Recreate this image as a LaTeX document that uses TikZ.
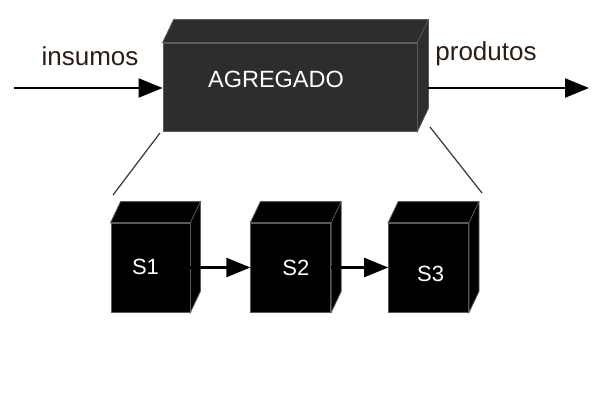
\documentclass[tikz,border=0pt]{standalone}
\usepackage{fontspec}
\setmainfont{Liberation Sans}
\usetikzlibrary{positioning,calc,arrows.meta}
\definecolor{aggfill}{HTML}{2D2D2D}
\definecolor{edgegray}{HTML}{5A5A5A}
\definecolor{txtbrown}{HTML}{2B1D14}
\begin{document}
\begin{tikzpicture}[x=1pt,y=-1pt]
			\tikzset{box/.style={draw=edgegray,line width=0.8pt,inner sep=0pt},
			flow/.style={line width=2.2pt,-{Triangle[length=24pt,width=19pt]}},
			lbl/.style={text=txtbrown,font=\fontsize{26}{30}\selectfont},
			inner/.style={text=white,font=\fontsize{22}{26}\selectfont}}
			\useasboundingbox (0,0) rectangle (600,405);
			\node[box,fill=aggfill,minimum width=254pt,minimum height=88pt] (agg) at (290,87) {};
			\node[inner,font=\fontsize{23.5}{28}\selectfont] (aggtxt) at (276,79) {AGREGADO};
			\fill[aggfill,draw=edgegray,line width=0.8pt] (agg.north west) -- ++(11,-23) -- ($(agg.north east)+(11,-23)$) -- ($(agg.south east)+(11,-23)$) -- (agg.south east) -- (agg.north east) -- cycle;
			\draw[edgegray,line width=0.8pt] (agg.north east) -- ++(11,-23);
			\node[box,fill=black,minimum width=79pt,minimum height=89pt] (s1) at (150.5,267.5) {};
			\node[box,fill=black,minimum width=80pt,minimum height=89pt,right=60pt of s1] (s2) {};
			\node[box,fill=black,minimum width=80pt,minimum height=89pt,right=57pt of s2] (s3) {};
			\foreach \n in {s1,s2,s3}{
				\fill[black,draw=edgegray,line width=0.8pt] (\n.north west) -- ++(10,-21) -- ($(\n.north east)+(10,-21)$) -- ($(\n.south east)+(10,-21)$) -- (\n.south east) -- (\n.north east) -- cycle;
				\draw[edgegray,line width=0.8pt] (\n.north east) -- ++(10,-21);
			}
			\node[inner] at ($(s1)+(-5,-1)$) {S1};
			\node[inner] at ($(s2)+(5,0)$) {S2};
			\node[inner] at ($(s3)+(2,6)$) {S3};
			\coordinate (in) at (14,88);
			\coordinate (out) at (589,88);
			\draw[flow] (in) -- (agg.west |- in);
			\draw[flow] ($(agg.east |- out)+(11,0)$) -- (out);
			\draw[flow] (s1.east) -- (s2.west);
			\draw[flow] (s2.east) -- (s3.west);
			\node[lbl] (ins) at (90,56) {insumos};
			\node[lbl] (prod) at (486,54) {produtos};
			\coordinate (a1) at (160,133);
			\coordinate (b1) at (113,195);
			\coordinate (a2) at (430,127);
			\coordinate (b2) at (482,193);
			\draw[line width=1.2pt,edgegray!60!black] (a1) -- (b1);
			\draw[line width=1.2pt,edgegray!60!black] (a2) -- (b2);
		\end{tikzpicture}
\end{document}
